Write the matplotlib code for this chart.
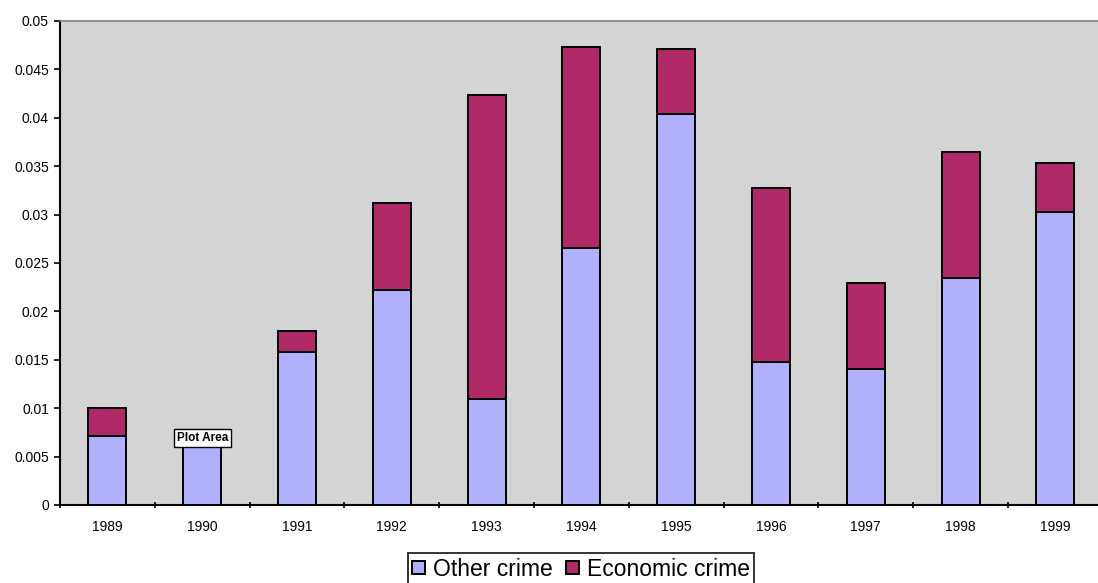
import matplotlib
matplotlib.use("Agg")
import matplotlib.pyplot as plt
import numpy as np

years = ["1989", "1990", "1991", "1992", "1993", "1994", "1995", "1996", "1997", "1998", "1999"]
other_crime = [0.0071, 0.0060, 0.0158, 0.0222, 0.0109, 0.0265, 0.0404, 0.0148, 0.0140, 0.0235, 0.0303]
economic_crime = [0.0029, 0.0, 0.0022, 0.0090, 0.0315, 0.0208, 0.0067, 0.0179, 0.0089, 0.0130, 0.0050]
yticks = [0, 0.005, 0.01, 0.015, 0.02, 0.025, 0.03, 0.035, 0.04, 0.045, 0.05]
ytick_labels = ["0", "0.005", "0.01", "0.015", "0.02", "0.025", "0.03", "0.035", "0.04", "0.045", "0.05"]

plt.rcParams['font.family'] = ['Liberation Sans', 'DejaVu Sans']

W, H = 1098, 583
fig = plt.figure(figsize=(W / 100, H / 100), dpi=100)
left, right, top, bottom = 60, 1098, 21, 505
ax = fig.add_axes([left / W, 1 - bottom / H, (right - left) / W, (bottom - top) / H])
ax.set_facecolor("#d4d4d4")

x = np.arange(len(years))
c_other = "#b0b0fc"
c_econ = "#b02a68"
ax.bar(x, other_crime, width=0.4, color=c_other, edgecolor="black", linewidth=1.4,
       label="Other crime", zorder=3)
ax.bar(x, economic_crime, width=0.4, bottom=other_crime, color=c_econ, edgecolor="black",
       linewidth=1.4, label="Economic crime", zorder=3)

ax.set_xlim(-0.5, 10.45)
ax.set_ylim(0, 0.05)
ax.set_yticks(yticks)
ax.set_yticklabels(ytick_labels, fontsize=10)
ax.set_xticks(x)
ax.set_xticklabels(years, fontsize=10)
ax.tick_params(axis="x", which="major", length=0, pad=11)
ax.set_xticks(np.arange(-0.5, 10.5, 1.0), minor=True)
ax.tick_params(axis="x", which="minor", length=4, direction="inout", width=1.2)
ax.tick_params(axis="y", length=4, direction="out", width=1.2, pad=4)

for s in ["left", "bottom"]:
    ax.spines[s].set_linewidth(1.5)
    ax.spines[s].set_color("black")
ax.spines["top"].set_color("#808080")
ax.spines["top"].set_linewidth(1.2)
ax.spines["right"].set_visible(False)

ax.text(1, 0.0069, "Plot Area", ha="center", va="center", fontsize=8.5, fontweight="bold",
        bbox=dict(boxstyle="square,pad=0.25", fc="white", ec="black", lw=1.0), zorder=5)

leg = fig.legend(loc="upper center", bbox_to_anchor=(581 / W, 1 - 553 / H), ncol=2,
                 prop={"size": 16.5}, frameon=True, fancybox=False,
                 edgecolor="black",
                 handlelength=0.55, handleheight=0.55, handletextpad=0.35, columnspacing=0.6,
                 borderpad=0.2, borderaxespad=0)
leg.get_frame().set_linewidth(1.4)

fig.savefig("out.png", dpi=100)
